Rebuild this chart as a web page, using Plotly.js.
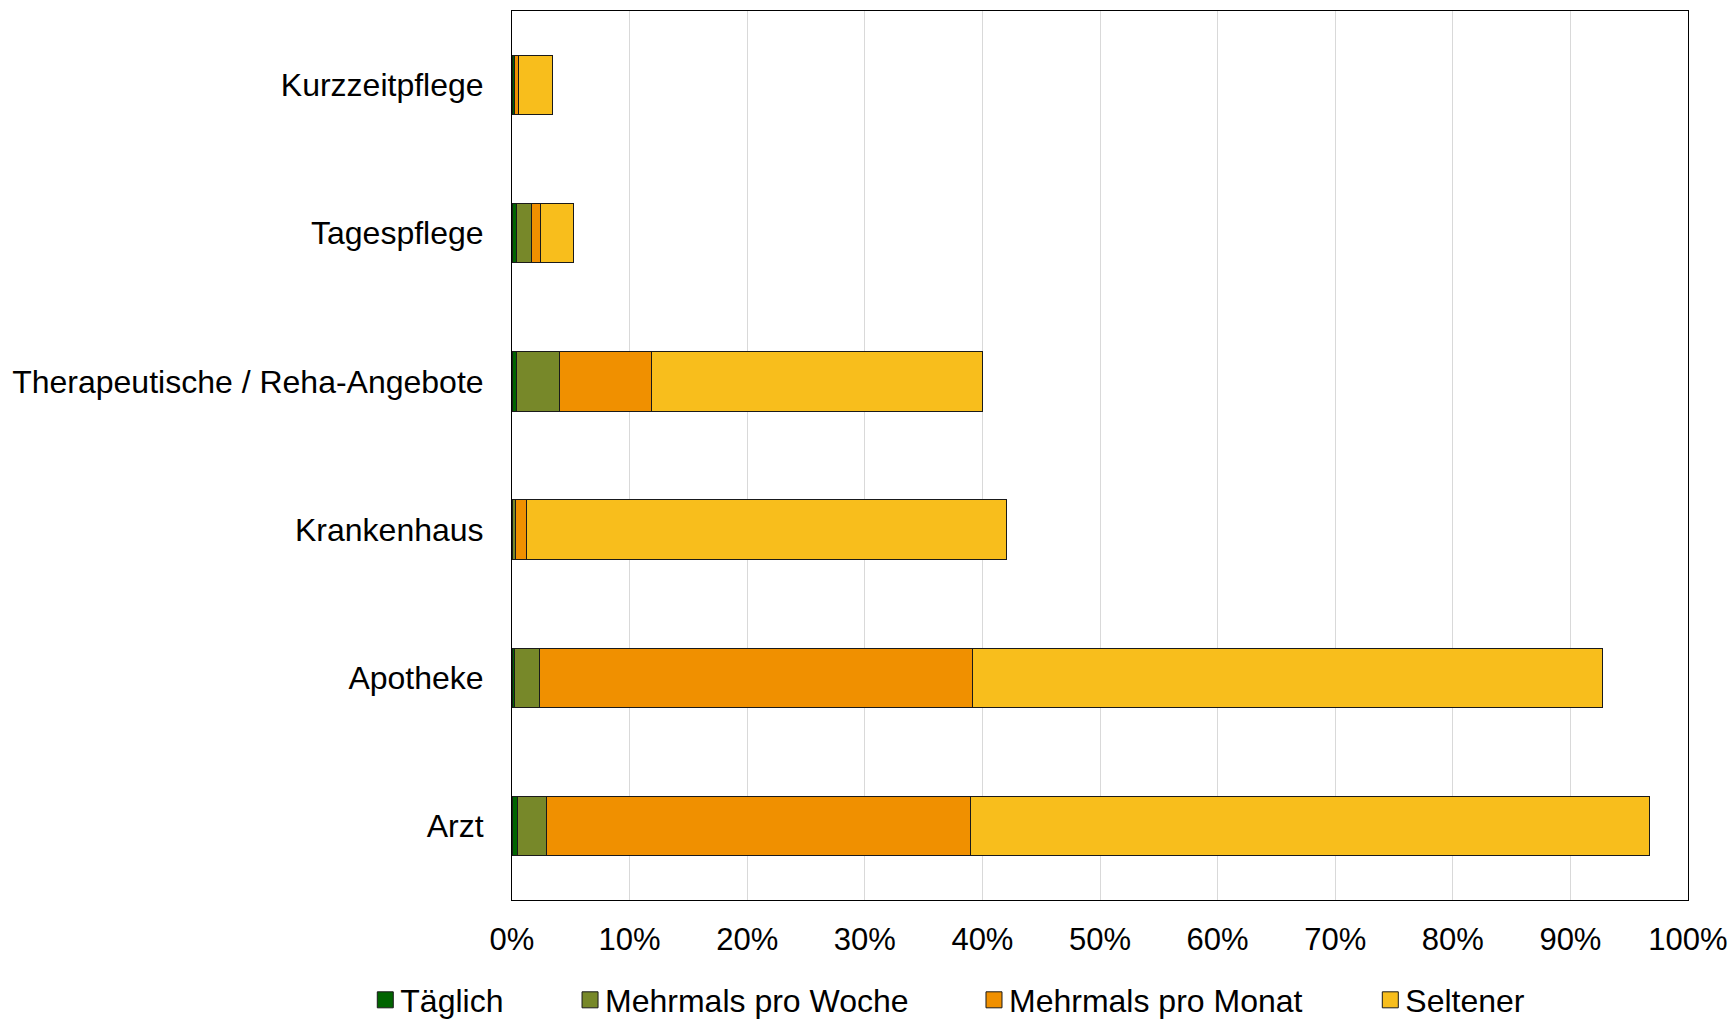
<!DOCTYPE html>
<html>
<head>
<meta charset="utf-8">
<script src="https://cdn.plot.ly/plotly-3.0.1.min.js"></script>
<style>
  html, body { margin: 0; padding: 0; background: #fff; }
  #chart { width: 1732px; height: 1020px; }
</style>
</head>
<body>
<div id="chart"></div>
<script>
// Inanspruchnahme von Angeboten, Anteile in Prozent (von unten nach oben)
const categories = ['Arzt', 'Apotheke', 'Krankenhaus', 'Therapeutische / Reha-Angebote', 'Tagespflege', 'Kurzzeitpflege'];

const seriesNames = ['Täglich', 'Mehrmals pro Woche', 'Mehrmals pro Monat', 'Seltener'];

const taeglich = [0.5, 0.25, 0, 0.34, 0.4, 0.17];
const mehrmalsProWoche = [2.47, 2.07, 0.3, 3.74, 1.28, 0];
const mehrmalsProMonat = [35.98, 36.88, 0.9, 7.82, 0.77, 0.34];
const seltener = [57.76, 53.5, 40.87, 28.1, 2.77, 2.92];

const xTickValues = [0, 10, 20, 30, 40, 50, 60, 70, 80, 90, 100];

const seriesValues = [taeglich, mehrmalsProWoche, mehrmalsProMonat, seltener];
const seriesColors = ['#006400', '#778829', '#F09000', '#F8BE1C'];
const legendIds = ['legend', 'legend2', 'legend3', 'legend4'];
const legendX = [-0.129, 0.0451, 0.3886, 0.7256];

const FONT = 'Liberation Sans, Arial, sans-serif';

const traces = seriesValues.map((vals, i) => ({
  type: 'bar',
  orientation: 'h',
  name: seriesNames[i],
  y: categories,
  x: vals,
  legend: legendIds[i],
  marker: { color: seriesColors[i], line: { color: '#1a1a1a', width: 1 } },
  hoverinfo: 'name+x'
}));

const layout = {
  width: 1732,
  height: 1020,
  barmode: 'stack',
  bargap: 0.6,
  paper_bgcolor: '#ffffff',
  plot_bgcolor: '#ffffff',
  margin: { l: 512, r: 44, t: 11, b: 120, pad: 0, autoexpand: false },
  font: { family: FONT, size: 31, color: '#000000' },
  xaxis: {
    range: [0, 100],
    tickvals: xTickValues,
    ticktext: xTickValues.map(v => v + '%'),
    showgrid: true,
    gridcolor: '#d9d9d9',
    gridwidth: 1,
    zeroline: false,
    showline: true,
    linecolor: '#000000',
    linewidth: 1,
    mirror: true,
    ticks: '',
    ticklabelstandoff: 12,
    tickfont: { family: FONT, size: 31, color: '#000000' },
    fixedrange: true
  },
  yaxis: {
    type: 'category',
    categoryorder: 'array',
    categoryarray: categories,
    showgrid: false,
    zeroline: false,
    showline: true,
    linecolor: '#000000',
    linewidth: 1,
    mirror: true,
    ticks: '',
    ticklabelstandoff: 21,
    tickfont: { family: FONT, size: 32, color: '#000000' },
    fixedrange: true
  },
  showlegend: true
};

legendIds.forEach((id, i) => {
  layout[id] = {
    orientation: 'h',
    x: legendX[i],
    xanchor: 'left',
    y: -0.1125,
    yanchor: 'middle',
    bgcolor: 'rgba(0,0,0,0)',
    borderwidth: 0,
    font: { family: FONT, size: 32, color: '#000000' },
    itemclick: false,
    itemdoubleclick: false
  };
});

// legend swatches: 16px squares, nudged a little towards the label
function resizeSwatches() {
  document.querySelectorAll('#chart .legendpoints path').forEach(p => {
    let bb;
    try { bb = p.getBBox(); } catch (e) { return; }
    if (!bb || bb.width < 4 || bb.width > 20 || Math.abs(bb.width - bb.height) > 1) return;
    const cx = bb.x + bb.width / 2 + 5;
    const cy = bb.y + bb.height / 2;
    const h = 8;
    p.setAttribute('d', `M${cx + h},${cy + h}H${cx - h}V${cy - h}H${cx + h}Z`);
  });
}

Plotly.newPlot('chart', traces, layout, { displayModeBar: false, staticPlot: true })
  .then(resizeSwatches);
</script>
</body>
</html>
